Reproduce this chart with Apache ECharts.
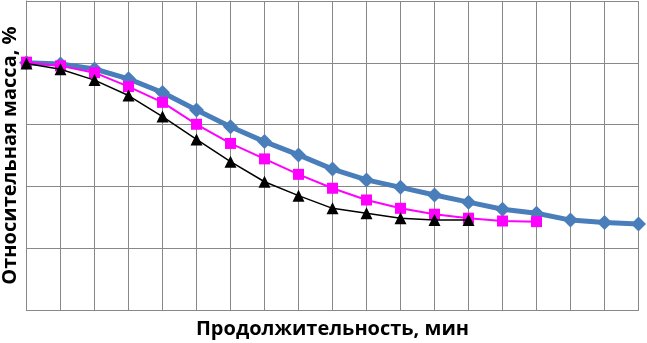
<!DOCTYPE html>
<html><head><meta charset="utf-8">
<script src="https://cdn.jsdelivr.net/npm/echarts@6/dist/echarts.min.js"></script>
<style>html,body{margin:0;padding:0;background:#fff}#c{width:647px;height:343px}</style>
</head><body><div id="c"></div>
<script>
const categories = [0,1,2,3,4,5,6,7,8,9,10,11,12,13,14,15,16,17,18];
const seriesBlue = [80,79.6,78.0,74.8,70.4,64.7,59.3,54.5,50.2,45.6,42.1,39.7,37.2,34.9,32.6,31.3,29.1,28.3,27.8];
const seriesPink = [80.2,79.0,76.8,72.3,67.2,60.1,53.9,48.9,43.9,39.4,35.6,32.9,31.0,29.7,28.8,28.6];
const seriesBlack = [79.8,77.9,74.4,69.4,62.6,55.2,48.0,41.5,37.0,32.9,31.3,29.7,29.1,29.1];
const yTitle = 'Относительная масса, %';
const xTitle = 'Продолжительность, мин';

const chart = echarts.init(document.getElementById('c'));
const font = '"Open Sans", "DejaVu Sans", sans-serif';
chart.setOption({
  animation: false,
  grid: {left: 26.5, right: 8.5, top: 1, bottom: 33, containLabel: false, outerBoundsMode: 'none'},
  xAxis: {
    type: 'category', data: categories, boundaryGap: false,
    name: xTitle, nameLocation: 'middle', nameGap: 9,
    nameTextStyle: {fontFamily: font, fontWeight: 'bold', fontSize: 20, color: '#000'},
    axisLine: {show: true, lineStyle: {color: '#888', width: 1}},
    axisTick: {show: false}, axisLabel: {show: false},
    splitLine: {show: true, lineStyle: {color: '#888', width: 1}}
  },
  yAxis: {
    type: 'value', min: 0, max: 100, interval: 20,
    name: yTitle, nameLocation: 'middle', nameGap: 6,
    nameTextStyle: {fontFamily: font, fontWeight: 'bold', fontSize: 20, color: '#000'},
    axisLine: {show: true, lineStyle: {color: '#888', width: 1}},
    axisTick: {show: false}, axisLabel: {show: false},
    splitLine: {show: true, lineStyle: {color: '#888', width: 1}}
  },
  series: [
    {type: 'line', data: seriesBlue, symbol: 'diamond', symbolSize: 15,
     lineStyle: {color: '#4A7EBB', width: 5}, itemStyle: {color: '#4A7EBB'}, z: 2},
    {type: 'line', data: seriesPink, symbol: 'rect', symbolSize: 11,
     lineStyle: {color: '#FF00FF', width: 2}, itemStyle: {color: '#FF00FF'}, z: 3},
    {type: 'line', data: seriesBlack, symbol: 'triangle', symbolSize: 12,
     lineStyle: {color: '#000', width: 1.5}, itemStyle: {color: '#000'}, z: 4}
  ]
});
</script></body></html>
